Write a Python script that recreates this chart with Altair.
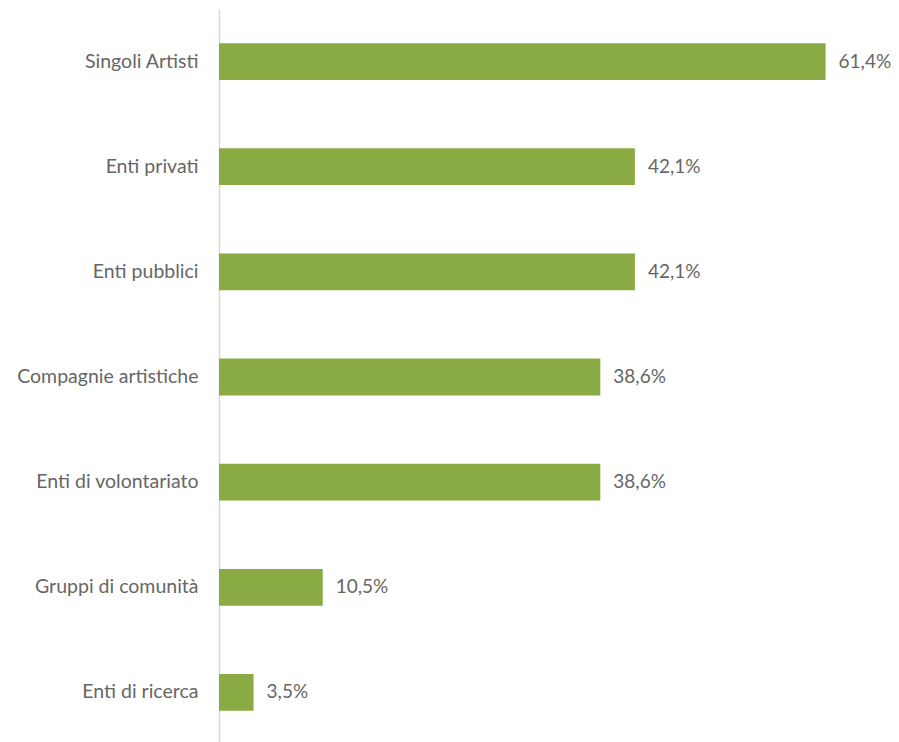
import altair as alt
import pandas as pd

categories = ["Singoli Artisti", "Enti privati", "Enti pubblici", "Compagnie artistiche",
              "Enti di volontariato", "Gruppi di comunità", "Enti di ricerca"]
values = [61.4, 42.1, 42.1, 38.6, 38.6, 10.5, 3.5]

df = pd.DataFrame({"cat": categories, "val": values})
df["label"] = [f"{v:.1f}".replace(".", ",") + "%" for v in values]

y = alt.Y("cat:N", sort=categories, title=None,
          scale=alt.Scale(paddingInner=0.65, paddingOuter=0.325),
          axis=alt.Axis(ticks=False, labelPadding=21, labelFontSize=19.5, labelFont="Lato",
                        labelLimit=400,
                        labelColor="#666666", domainColor="#D9D9D9", domainWidth=1.5,
                        grid=False))
x = alt.X("val:Q", title=None, scale=alt.Scale(domain=[0, 66], nice=False, zero=True),
          axis=None)

bars = alt.Chart(df).mark_bar(color="#8AAA44").encode(x=x, y=y)
text = alt.Chart(df).mark_text(align="left", baseline="middle", dx=13, fontSize=19,
                               font="Lato", color="#666666").encode(
    x=x, y=alt.Y("cat:N", sort=categories), text="label:N")

chart = (bars + text).properties(
    width=652, height=736,
    background="white",
    autosize=alt.AutoSizeParams(type="none"),
    padding={"left": 211, "top": 1, "right": 20, "bottom": 0},
).configure_view(stroke=None, strokeWidth=0)

chart.save("out.html", embed_options={"renderer": "svg", "actions": False})
